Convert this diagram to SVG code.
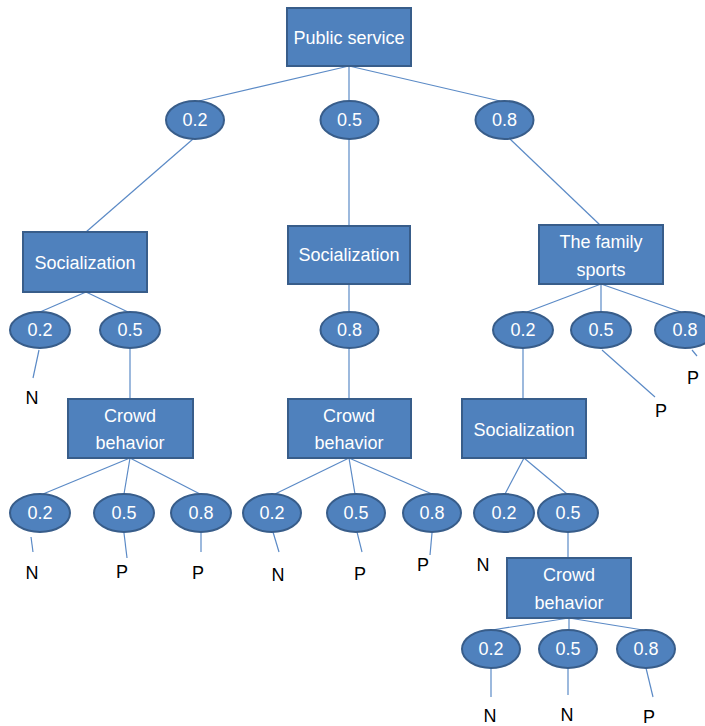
<svg xmlns="http://www.w3.org/2000/svg" width="705" height="726" viewBox="0 0 705 726">
<style>
.box{fill:#4F81BD;stroke:#385D8A;stroke-width:2}
.ell{fill:#4F81BD;stroke:#385D8A;stroke-width:2}
.t{font-family:"Liberation Sans",Arial,sans-serif;font-size:18px;fill:#ffffff;text-anchor:middle}
.o{font-family:"Liberation Sans",Arial,sans-serif;font-size:18px;fill:#000000;text-anchor:middle}
.c line{stroke:#5B8AC6;stroke-width:1.2}
</style>
<rect width="705" height="726" fill="#ffffff"/>
<g class="c" id="connectors">
<line x1="349" y1="66" x2="199" y2="101"/>
<line x1="349" y1="66" x2="349" y2="101"/>
<line x1="349" y1="66" x2="500" y2="101"/>
<line x1="193" y1="139" x2="86" y2="232"/>
<line x1="86" y1="292" x2="40" y2="312"/>
<line x1="86" y1="292" x2="128" y2="312"/>
<line x1="39" y1="350" x2="33" y2="378"/>
<line x1="130" y1="349" x2="130" y2="399"/>
<line x1="130" y1="458" x2="43" y2="494"/>
<line x1="130" y1="458" x2="124" y2="494"/>
<line x1="130" y1="458" x2="200" y2="494"/>
<line x1="31" y1="537" x2="33" y2="552"/>
<line x1="124" y1="533" x2="127" y2="558"/>
<line x1="201" y1="533" x2="201" y2="552"/>
<line x1="349" y1="139" x2="349" y2="226"/>
<line x1="349" y1="284" x2="349" y2="311"/>
<line x1="349" y1="349" x2="349" y2="399"/>
<line x1="349" y1="458" x2="275" y2="494"/>
<line x1="349" y1="458" x2="355" y2="494"/>
<line x1="349" y1="458" x2="432" y2="494"/>
<line x1="273" y1="532" x2="279" y2="552"/>
<line x1="357" y1="532" x2="362" y2="552"/>
<line x1="432" y1="533" x2="430" y2="555"/>
<line x1="510" y1="139" x2="600" y2="225"/>
<line x1="601" y1="284" x2="527" y2="312"/>
<line x1="601" y1="284" x2="601" y2="312"/>
<line x1="601" y1="284" x2="681" y2="312"/>
<line x1="602" y1="350" x2="655" y2="397"/>
<line x1="692" y1="350" x2="697" y2="356"/>
<line x1="523" y1="349" x2="523" y2="399"/>
<line x1="524" y1="458" x2="505" y2="494"/>
<line x1="524" y1="458" x2="567" y2="494"/>
<line x1="568" y1="532" x2="568" y2="558"/>
<line x1="569" y1="618" x2="492" y2="630"/>
<line x1="569" y1="618" x2="569" y2="630"/>
<line x1="569" y1="618" x2="643" y2="630"/>
<line x1="491" y1="668" x2="491" y2="697"/>
<line x1="568" y1="668" x2="568" y2="695"/>
<line x1="646" y1="668" x2="653" y2="697"/>
</g>
<g id="public-service"><rect class="box" x="287" y="8" width="124" height="58"/><text class="t" x="349" y="44">Public service</text></g>
<g id="e-0.2"><ellipse class="ell" cx="195" cy="120" rx="29" ry="19"/><text class="t" x="195" y="126">0.2</text></g>
<g id="e-0.5"><ellipse class="ell" cx="349.5" cy="120" rx="29" ry="19"/><text class="t" x="349.5" y="126">0.5</text></g>
<g id="e-0.8"><ellipse class="ell" cx="504.5" cy="120" rx="29" ry="19"/><text class="t" x="504.5" y="126">0.8</text></g>

<g id="soc-left"><rect class="box" x="23" y="232" width="124" height="60"/><text class="t" x="85" y="269">Socialization</text></g>
<g id="sl-0.2"><ellipse class="ell" cx="40" cy="330" rx="30" ry="18"/><text class="t" x="40" y="336">0.2</text></g>
<g id="sl-0.5"><ellipse class="ell" cx="130" cy="330" rx="30" ry="18"/><text class="t" x="130" y="336">0.5</text></g>
<g id="sl-N"><text class="o" x="32" y="404">N</text></g>
<g id="crowd-left"><rect class="box" x="68" y="399" width="125" height="59"/><text class="t" x="130" y="422">Crowd</text><text class="t" x="130" y="449">behavior</text></g>
<g id="cl-0.2"><ellipse class="ell" cx="40" cy="513" rx="30" ry="19"/><text class="t" x="40" y="519">0.2</text></g>
<g id="cl-0.5"><ellipse class="ell" cx="124" cy="513" rx="30" ry="19"/><text class="t" x="124" y="519">0.5</text></g>
<g id="cl-0.8"><ellipse class="ell" cx="201" cy="513" rx="30" ry="19"/><text class="t" x="201" y="519">0.8</text></g>
<g id="cl-N"><text class="o" x="32" y="579">N</text></g>
<g id="cl-P1"><text class="o" x="122" y="578">P</text></g>
<g id="cl-P2"><text class="o" x="198" y="579">P</text></g>

<g id="soc-mid"><rect class="box" x="288" y="226" width="122" height="58"/><text class="t" x="349" y="261">Socialization</text></g>
<g id="sm-0.8"><ellipse class="ell" cx="349.5" cy="330" rx="29" ry="18"/><text class="t" x="349.5" y="336">0.8</text></g>
<g id="crowd-mid"><rect class="box" x="288" y="399" width="123" height="59"/><text class="t" x="349" y="422">Crowd</text><text class="t" x="349" y="449">behavior</text></g>
<g id="cm-0.2"><ellipse class="ell" cx="272" cy="513" rx="29" ry="19"/><text class="t" x="272" y="519">0.2</text></g>
<g id="cm-0.5"><ellipse class="ell" cx="356" cy="513" rx="29" ry="19"/><text class="t" x="356" y="519">0.5</text></g>
<g id="cm-0.8"><ellipse class="ell" cx="432" cy="513" rx="29" ry="19"/><text class="t" x="432" y="519">0.8</text></g>
<g id="cm-N"><text class="o" x="278" y="581">N</text></g>
<g id="cm-P1"><text class="o" x="360" y="580">P</text></g>
<g id="cm-P2"><text class="o" x="423" y="571">P</text></g>

<g id="family"><rect class="box" x="539" y="225" width="124" height="59"/><text class="t" x="601" y="248">The family</text><text class="t" x="601" y="276">sports</text></g>
<g id="f-0.2"><ellipse class="ell" cx="523" cy="330" rx="30" ry="18"/><text class="t" x="523" y="336">0.2</text></g>
<g id="f-0.5"><ellipse class="ell" cx="601" cy="330" rx="30" ry="18"/><text class="t" x="601" y="336">0.5</text></g>
<g id="f-0.8"><ellipse class="ell" cx="685" cy="330" rx="30" ry="18"/><text class="t" x="685" y="336">0.8</text></g>
<g id="f-P1"><text class="o" x="661" y="417">P</text></g>
<g id="f-P2"><text class="o" x="693" y="384">P</text></g>
<g id="soc-right"><rect class="box" x="462" y="399" width="124" height="59"/><text class="t" x="524" y="436">Socialization</text></g>
<g id="sr-0.2"><ellipse class="ell" cx="504" cy="513" rx="30" ry="19"/><text class="t" x="504" y="519">0.2</text></g>
<g id="sr-0.5"><ellipse class="ell" cx="568" cy="513" rx="30" ry="19"/><text class="t" x="568" y="519">0.5</text></g>
<g id="sr-N"><text class="o" x="483" y="571">N</text></g>
<g id="crowd-right"><rect class="box" x="507" y="558" width="124" height="60"/><text class="t" x="569" y="581">Crowd</text><text class="t" x="569" y="609">behavior</text></g>
<g id="cr-0.2"><ellipse class="ell" cx="491" cy="649" rx="29" ry="19"/><text class="t" x="491" y="655">0.2</text></g>
<g id="cr-0.5"><ellipse class="ell" cx="568" cy="649" rx="29" ry="19"/><text class="t" x="568" y="655">0.5</text></g>
<g id="cr-0.8"><ellipse class="ell" cx="646" cy="649" rx="29" ry="19"/><text class="t" x="646" y="655">0.8</text></g>
<g id="cr-N1"><text class="o" x="490" y="722">N</text></g>
<g id="cr-N2"><text class="o" x="567" y="721">N</text></g>
<g id="cr-P"><text class="o" x="649" y="723">P</text></g>
</svg>
